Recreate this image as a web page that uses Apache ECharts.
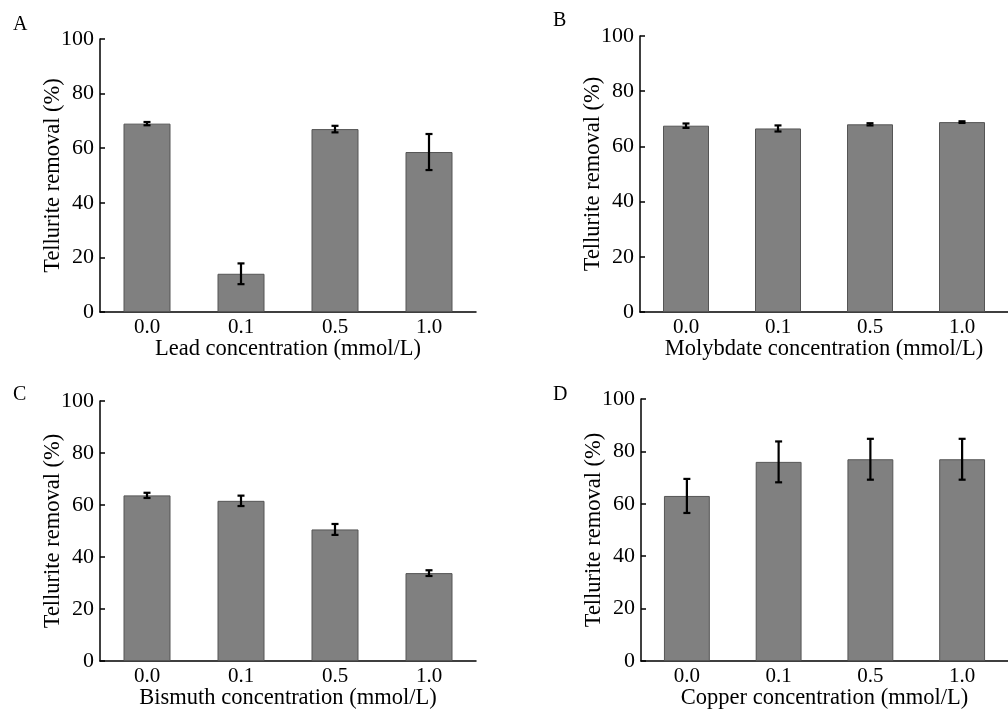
<!DOCTYPE html>
<html>
<head>
<meta charset="utf-8">
<script src="https://cdn.jsdelivr.net/npm/echarts@6/dist/echarts.min.js"></script>
<style>
  html, body { margin: 0; padding: 0; background: #fff; }
  #chart { width: 1008px; height: 711px; }
</style>
</head>
<body>
<div id="chart"></div>
<script>
var categories = ['0.0', '0.1', '0.5', '1.0']
var yTicks = [0, 20, 40, 60, 80, 100]

var leadValues = [69, 14, 67, 58.6]
var leadErrors = [0.6, 3.8, 1.2, 6.6]
var molybdateValues = [67.5, 66.5, 68, 68.8]
var molybdateErrors = [0.8, 1.1, 0.4, 0.3]
var bismuthValues = [63.7, 61.6, 50.6, 33.8]
var bismuthErrors = [1.0, 2.0, 2.1, 1.1]
var copperValues = [63, 76, 77, 77]
var copperErrors = [6.5, 7.8, 7.8, 7.8]

var panels = [
  { letter: 'A', xname: 'Lead concentration (mmol/L)', values: leadValues, errors: leadErrors },
  { letter: 'B', xname: 'Molybdate concentration (mmol/L)', values: molybdateValues, errors: molybdateErrors },
  { letter: 'C', xname: 'Bismuth concentration (mmol/L)', values: bismuthValues, errors: bismuthErrors },
  { letter: 'D', xname: 'Copper concentration (mmol/L)', values: copperValues, errors: copperErrors }
]

// grid boxes in pixels (left, top, width, height)
var grids = [
  { left: 100, top: 39, width: 376, height: 273 },
  { left: 640, top: 36, width: 378, height: 276 },
  { left: 100, top: 401, width: 376, height: 263 },
  { left: 641, top: 399, width: 378, height: 265 }
]
var letterPos = [[13, 15], [553, 11], [13, 385], [553, 385]]

var font = 'Liberation Serif'

function errorRender(values, errors) {
  return function (params, api) {
    var i = api.value(0)
    var v = values[i], e = errors[i]
    var hi = api.coord([i, v + e])
    var lo = api.coord([i, v - e])
    var cap = 3.5
    var style = { stroke: '#000', lineWidth: 2.2 }
    return {
      type: 'group',
      children: [
        { type: 'line', shape: { x1: hi[0], y1: hi[1], x2: lo[0], y2: lo[1] }, style: style },
        { type: 'line', shape: { x1: hi[0] - cap, y1: hi[1], x2: hi[0] + cap, y2: hi[1] }, style: style },
        { type: 'line', shape: { x1: lo[0] - cap, y1: lo[1], x2: lo[0] + cap, y2: lo[1] }, style: style }
      ]
    }
  }
}

var option = {
  animation: false,
  backgroundColor: '#fff',
  textStyle: { fontFamily: font, color: '#000' },
  title: [],
  grid: [],
  xAxis: [],
  yAxis: [],
  series: []
}

for (var p in panels) {
  var panel = panels[p]
  option.grid.push(grids[p])
  option.title.push({
    text: panel.letter,
    left: letterPos[p][0],
    top: letterPos[p][1],
    padding: 0,
    textStyle: { fontFamily: font, fontSize: 20, fontWeight: 'normal', color: '#000' }
  })
  option.xAxis.push({
    type: 'category',
    gridIndex: +p,
    data: categories,
    boundaryGap: true,
    name: panel.xname,
    nameLocation: 'middle',
    nameGap: 26,
    nameMoveOverlap: false,
    nameTextStyle: { fontFamily: font, fontSize: 22.5, color: '#000' },
    axisLine: { lineStyle: { color: '#000', width: 1.5 } },
    axisTick: { show: false },
    axisLabel: { fontFamily: font, fontSize: 21, color: '#000', margin: 5 },
    splitLine: { show: false }
  })
  option.yAxis.push({
    type: 'value',
    gridIndex: +p,
    min: yTicks[0],
    max: yTicks[yTicks.length - 1],
    interval: yTicks[1] - yTicks[0],
    name: 'Tellurite removal (%)',
    nameLocation: 'middle',
    nameRotate: 90,
    nameGap: 35,
    nameMoveOverlap: false,
    nameTextStyle: { fontFamily: font, fontSize: 22.5, color: '#000' },
    axisLine: { show: true, lineStyle: { color: '#000', width: 1.5 } },
    axisTick: { show: true, inside: true, length: 5, lineStyle: { color: '#000', width: 1.5 } },
    axisLabel: { fontFamily: font, fontSize: 22, color: '#000', margin: 6 },
    splitLine: { show: false }
  })
  option.series.push({
    type: 'bar',
    xAxisIndex: +p,
    yAxisIndex: +p,
    data: panel.values,
    barWidth: '50%',
    itemStyle: { color: '#808080', borderColor: '#555', borderWidth: 1 }
  })
  option.series.push({
    type: 'custom',
    xAxisIndex: +p,
    yAxisIndex: +p,
    data: panel.values.map(function (v, i) { return [i, v] }),
    renderItem: errorRender(panel.values, panel.errors),
    z: 10
  })
}

var chart = echarts.init(document.getElementById('chart'))
chart.setOption(option)
</script>
</body>
</html>
